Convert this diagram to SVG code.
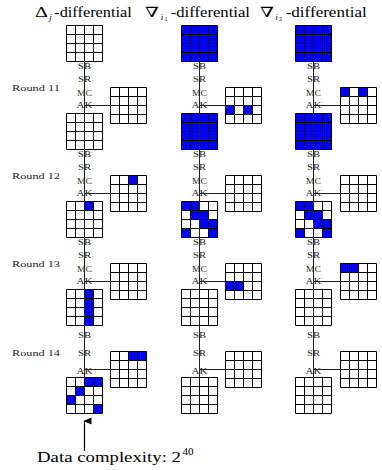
<svg xmlns="http://www.w3.org/2000/svg" xmlns:xlink="http://www.w3.org/1999/xlink" width="382" height="470" viewBox="0 0 382 470">
<style>
.b{fill:#0000ff}
.w{fill:#fff}
.gl{fill:none;stroke:#000;stroke-width:1}
.conn{stroke:#222;stroke-width:1;fill:none}
text{font-family:"Liberation Serif","DejaVu Serif",serif}
.op{font-size:8px;fill:#222;text-anchor:middle}
.rd{font-size:8px;fill:#222}
.ttl{font-size:14px;fill:#000}
.sub{font-size:9px;font-style:italic}
.sub2{font-size:6px}
.cap{font-size:15px;fill:#000}
.sup{font-size:9.5px;fill:#000}
</style>
<defs>
<path id="g" d="M0 0H36V36H0Z M9 0V36 M18 0V36 M27 0V36 M0 9H36 M0 18H36 M0 27H36" class="gl"/>
<g id="diag">
<rect class="b" x="0" y="0" width="18" height="9"/>
<rect class="b" x="9" y="9" width="18" height="9"/>
<rect class="b" x="18" y="18" width="18" height="9"/>
<rect class="b" x="0" y="27" width="9" height="9"/>
<rect class="b" x="27" y="27" width="9" height="9"/>
</g>
<marker id="ah" markerWidth="8" markerHeight="9" refX="4" refY="1" orient="auto-start-reverse" markerUnits="userSpaceOnUse" viewBox="0 0 8 9">
<path d="M4 0L7.5 8H0.5Z" fill="#000"/>
</marker>
</defs>
<rect width="382" height="470" fill="#fff"/>

<g id="titles">
<text class="ttl" x="35" y="17" textLength="13" lengthAdjust="spacingAndGlyphs">Δ</text>
<text class="sub" x="49.3" y="19.5">j</text>
<text class="ttl" x="54.3" y="17" textLength="77.4" lengthAdjust="spacingAndGlyphs">-differential</text>
<text class="ttl" x="145" y="17" textLength="14" lengthAdjust="spacingAndGlyphs">∇</text>
<text class="sub" x="160.7" y="19.5">i</text>
<text class="sub2" x="164.5" y="21">1</text>
<text class="ttl" x="170.7" y="17" textLength="79.3" lengthAdjust="spacingAndGlyphs">-differential</text>
<text class="ttl" x="260" y="17" textLength="14" lengthAdjust="spacingAndGlyphs">∇</text>
<text class="sub" x="275.3" y="19.5">i</text>
<text class="sub2" x="279.1" y="21">2</text>
<text class="ttl" x="285.7" y="17" textLength="81" lengthAdjust="spacingAndGlyphs">-differential</text>
</g>

<g id="connectors">
<line class="conn" x1="84.5" y1="105.5" x2="110.5" y2="105.5"/>
<line class="conn" x1="84.5" y1="193.5" x2="110.5" y2="193.5"/>
<line class="conn" x1="84.5" y1="281.5" x2="110.5" y2="281.5"/>
<line class="conn" x1="84.5" y1="369.5" x2="110.5" y2="369.5"/>
<line class="conn" x1="199.5" y1="105.5" x2="225.5" y2="105.5"/>
<line class="conn" x1="199.5" y1="193.5" x2="225.5" y2="193.5"/>
<line class="conn" x1="199.5" y1="281.5" x2="225.5" y2="281.5"/>
<line class="conn" x1="199.5" y1="369.5" x2="225.5" y2="369.5"/>
<line class="conn" x1="313.5" y1="105.5" x2="340.5" y2="105.5"/>
<line class="conn" x1="313.5" y1="193.5" x2="340.5" y2="193.5"/>
<line class="conn" x1="313.5" y1="281.5" x2="340.5" y2="281.5"/>
<line class="conn" x1="313.5" y1="369.5" x2="340.5" y2="369.5"/>
<line x1="84.5" y1="451" x2="84.5" y2="421" stroke="#000" stroke-width="1.2" marker-end="url(#ah)"/>
</g>

<g id="round-labels">
<text class="rd" x="12" y="90.5" textLength="48" lengthAdjust="spacingAndGlyphs">Round 11</text>
<text class="rd" x="12" y="178.5" textLength="48" lengthAdjust="spacingAndGlyphs">Round 12</text>
<text class="rd" x="12" y="266.5" textLength="48" lengthAdjust="spacingAndGlyphs">Round 13</text>
<text class="rd" x="12" y="355.5" textLength="48" lengthAdjust="spacingAndGlyphs">Round 14</text>
</g>

<!-- Column 1: Delta_j -->
<g id="d-in" transform="translate(66.5,25.5)"><rect class="w" width="36" height="36"/><use xlink:href="#g"/></g>
<g id="d-k11" transform="translate(110.5,87.5)"><rect class="w" width="36" height="36"/><use xlink:href="#g"/></g>
<g id="d-r11" transform="translate(66.5,113.5)"><rect class="w" width="36" height="36"/><use xlink:href="#g"/></g>
<g id="d-k12" transform="translate(110.5,175.5)"><rect class="w" width="36" height="36"/><rect class="b" x="18" y="0" width="9" height="9"/><use xlink:href="#g"/></g>
<g id="d-r12" transform="translate(66.5,201.5)"><rect class="w" width="36" height="36"/><rect class="b" x="18" y="0" width="9" height="9"/><use xlink:href="#g"/></g>
<g id="d-k13" transform="translate(110.5,263.5)"><rect class="w" width="36" height="36"/><use xlink:href="#g"/></g>
<g id="d-r13" transform="translate(66.5,289.5)"><rect class="w" width="36" height="36"/><rect class="b" x="18" y="0" width="9" height="36"/><use xlink:href="#g"/></g>
<g id="d-k14" transform="translate(110.5,351.5)"><rect class="w" width="36" height="36"/><rect class="b" x="18" y="0" width="18" height="9"/><use xlink:href="#g"/></g>
<g id="d-r14" transform="translate(66.5,377.5)"><rect class="w" width="36" height="36"/><rect class="b" x="18" y="0" width="18" height="9"/><rect class="b" x="9" y="9" width="9" height="9"/><rect class="b" x="0" y="18" width="9" height="9"/><rect class="b" x="27" y="27" width="9" height="9"/><use xlink:href="#g"/></g>

<!-- Column 2: nabla_i1 -->
<g id="n1-in" transform="translate(181.5,25.5)"><rect class="b" width="36" height="36"/><use xlink:href="#g"/></g>
<g id="n1-k11" transform="translate(225.5,87.5)"><rect class="w" width="36" height="36"/><rect class="b" x="0" y="18" width="9" height="9"/><rect class="b" x="18" y="18" width="9" height="9"/><use xlink:href="#g"/></g>
<g id="n1-r11" transform="translate(181.5,113.5)"><rect class="b" width="36" height="36"/><use xlink:href="#g"/></g>
<g id="n1-k12" transform="translate(225.5,175.5)"><rect class="w" width="36" height="36"/><use xlink:href="#g"/></g>
<g id="n1-r12" transform="translate(181.5,201.5)"><rect class="w" width="36" height="36"/><use xlink:href="#diag"/><use xlink:href="#g"/></g>
<g id="n1-k13" transform="translate(225.5,263.5)"><rect class="w" width="36" height="36"/><rect class="b" x="0" y="18" width="18" height="9"/><use xlink:href="#g"/></g>
<g id="n1-r13" transform="translate(181.5,289.5)"><rect class="w" width="36" height="36"/><use xlink:href="#g"/></g>
<g id="n1-k14" transform="translate(225.5,351.5)"><rect class="w" width="36" height="36"/><use xlink:href="#g"/></g>
<g id="n1-r14" transform="translate(181.5,377.5)"><rect class="w" width="36" height="36"/><use xlink:href="#g"/></g>

<!-- Column 3: nabla_i2 -->
<g id="n2-in" transform="translate(295.5,25.5)"><rect class="b" width="36" height="36"/><use xlink:href="#g"/></g>
<g id="n2-k11" transform="translate(340.5,87.5)"><rect class="w" width="36" height="36"/><rect class="b" x="0" y="0" width="9" height="9"/><rect class="b" x="18" y="0" width="9" height="9"/><use xlink:href="#g"/></g>
<g id="n2-r11" transform="translate(295.5,113.5)"><rect class="b" width="36" height="36"/><use xlink:href="#g"/></g>
<g id="n2-k12" transform="translate(340.5,175.5)"><rect class="w" width="36" height="36"/><use xlink:href="#g"/></g>
<g id="n2-r12" transform="translate(295.5,201.5)"><rect class="w" width="36" height="36"/><use xlink:href="#diag"/><use xlink:href="#g"/></g>
<g id="n2-k13" transform="translate(340.5,263.5)"><rect class="w" width="36" height="36"/><rect class="b" x="0" y="0" width="18" height="9"/><use xlink:href="#g"/></g>
<g id="n2-r13" transform="translate(295.5,289.5)"><rect class="w" width="36" height="36"/><use xlink:href="#g"/></g>
<g id="n2-k14" transform="translate(340.5,351.5)"><rect class="w" width="36" height="36"/><use xlink:href="#g"/></g>
<g id="n2-r14" transform="translate(295.5,377.5)"><rect class="w" width="36" height="36"/><use xlink:href="#g"/></g>

<g id="through-lines">
<line class="conn" x1="84.5" y1="61.5" x2="84.5" y2="377.5"/>
<line class="conn" x1="199.5" y1="61.5" x2="199.5" y2="377.5"/>
<line class="conn" x1="313.5" y1="61.5" x2="313.5" y2="377.5"/>
</g>

<g id="op-labels">
<g id="ops-c1">
<text class="op" x="84.5" y="69" textLength="13" lengthAdjust="spacingAndGlyphs">SB</text>
<text class="op" x="84.5" y="82" textLength="13" lengthAdjust="spacingAndGlyphs">SR</text>
<text class="op" x="84.5" y="95.5" textLength="15" lengthAdjust="spacingAndGlyphs">MC</text>
<text class="op" x="84.5" y="108" textLength="16" lengthAdjust="spacingAndGlyphs">AK</text>
<text class="op" x="84.5" y="157" textLength="13" lengthAdjust="spacingAndGlyphs">SB</text>
<text class="op" x="84.5" y="170" textLength="13" lengthAdjust="spacingAndGlyphs">SR</text>
<text class="op" x="84.5" y="183.5" textLength="15" lengthAdjust="spacingAndGlyphs">MC</text>
<text class="op" x="84.5" y="196" textLength="16" lengthAdjust="spacingAndGlyphs">AK</text>
<text class="op" x="84.5" y="245" textLength="13" lengthAdjust="spacingAndGlyphs">SB</text>
<text class="op" x="84.5" y="258" textLength="13" lengthAdjust="spacingAndGlyphs">SR</text>
<text class="op" x="84.5" y="271.5" textLength="15" lengthAdjust="spacingAndGlyphs">MC</text>
<text class="op" x="84.5" y="284" textLength="16" lengthAdjust="spacingAndGlyphs">AK</text>
<text class="op" x="84.5" y="337.5" textLength="13" lengthAdjust="spacingAndGlyphs">SB</text>
<text class="op" x="84.5" y="355.5" textLength="13" lengthAdjust="spacingAndGlyphs">SR</text>
<text class="op" x="84.5" y="374" textLength="16" lengthAdjust="spacingAndGlyphs">AK</text>
</g>
<g id="ops-c2">
<text class="op" x="199.5" y="69" textLength="13" lengthAdjust="spacingAndGlyphs">SB</text>
<text class="op" x="199.5" y="82" textLength="13" lengthAdjust="spacingAndGlyphs">SR</text>
<text class="op" x="199.5" y="95.5" textLength="15" lengthAdjust="spacingAndGlyphs">MC</text>
<text class="op" x="199.5" y="108" textLength="16" lengthAdjust="spacingAndGlyphs">AK</text>
<text class="op" x="199.5" y="157" textLength="13" lengthAdjust="spacingAndGlyphs">SB</text>
<text class="op" x="199.5" y="170" textLength="13" lengthAdjust="spacingAndGlyphs">SR</text>
<text class="op" x="199.5" y="183.5" textLength="15" lengthAdjust="spacingAndGlyphs">MC</text>
<text class="op" x="199.5" y="196" textLength="16" lengthAdjust="spacingAndGlyphs">AK</text>
<text class="op" x="199.5" y="245" textLength="13" lengthAdjust="spacingAndGlyphs">SB</text>
<text class="op" x="199.5" y="258" textLength="13" lengthAdjust="spacingAndGlyphs">SR</text>
<text class="op" x="199.5" y="271.5" textLength="15" lengthAdjust="spacingAndGlyphs">MC</text>
<text class="op" x="199.5" y="284" textLength="16" lengthAdjust="spacingAndGlyphs">AK</text>
<text class="op" x="199.5" y="337.5" textLength="13" lengthAdjust="spacingAndGlyphs">SB</text>
<text class="op" x="199.5" y="355.5" textLength="13" lengthAdjust="spacingAndGlyphs">SR</text>
<text class="op" x="199.5" y="374" textLength="16" lengthAdjust="spacingAndGlyphs">AK</text>
</g>
<g id="ops-c3">
<text class="op" x="313.5" y="69" textLength="13" lengthAdjust="spacingAndGlyphs">SB</text>
<text class="op" x="313.5" y="82" textLength="13" lengthAdjust="spacingAndGlyphs">SR</text>
<text class="op" x="313.5" y="95.5" textLength="15" lengthAdjust="spacingAndGlyphs">MC</text>
<text class="op" x="313.5" y="108" textLength="16" lengthAdjust="spacingAndGlyphs">AK</text>
<text class="op" x="313.5" y="157" textLength="13" lengthAdjust="spacingAndGlyphs">SB</text>
<text class="op" x="313.5" y="170" textLength="13" lengthAdjust="spacingAndGlyphs">SR</text>
<text class="op" x="313.5" y="183.5" textLength="15" lengthAdjust="spacingAndGlyphs">MC</text>
<text class="op" x="313.5" y="196" textLength="16" lengthAdjust="spacingAndGlyphs">AK</text>
<text class="op" x="313.5" y="245" textLength="13" lengthAdjust="spacingAndGlyphs">SB</text>
<text class="op" x="313.5" y="258" textLength="13" lengthAdjust="spacingAndGlyphs">SR</text>
<text class="op" x="313.5" y="271.5" textLength="15" lengthAdjust="spacingAndGlyphs">MC</text>
<text class="op" x="313.5" y="284" textLength="16" lengthAdjust="spacingAndGlyphs">AK</text>
<text class="op" x="313.5" y="337.5" textLength="13" lengthAdjust="spacingAndGlyphs">SB</text>
<text class="op" x="313.5" y="355.5" textLength="13" lengthAdjust="spacingAndGlyphs">SR</text>
<text class="op" x="313.5" y="374" textLength="16" lengthAdjust="spacingAndGlyphs">AK</text>
</g>
</g>

<g id="caption">
<text class="cap" x="37" y="462" textLength="144" lengthAdjust="spacingAndGlyphs">Data complexity: 2</text>
<text class="sup" x="182.5" y="455" textLength="11" lengthAdjust="spacingAndGlyphs">40</text>
</g>
</svg>
